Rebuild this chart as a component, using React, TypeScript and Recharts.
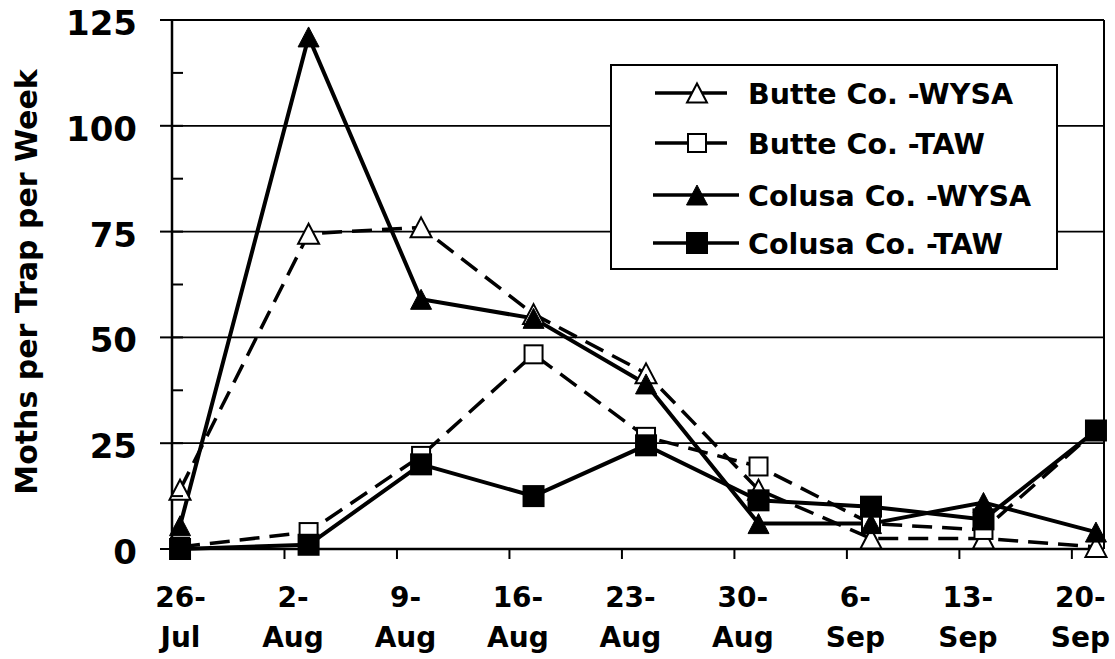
import React from "react";
import { LineChart, Line, XAxis, YAxis, CartesianGrid, ReferenceLine, Legend } from "recharts";

const weekLabels = ["26-Jul", "2-Aug", "9-Aug", "16-Aug", "23-Aug", "30-Aug", "6-Sep", "13-Sep", "20-Sep"];
const tickDays = [0, 7, 14, 21, 28, 35, 42, 49, 56];
const sampleDays = [0.5, 8.5, 15.5, 22.5, 29.5, 36.5, 43.5, 50.5, 57.5];
const butteWYSA = [14, 74.5, 76, 55.5, 41.5, 14, 2.5, 2.5, 0.5];
const butteTAW = [0.5, 4, 22, 46, 26.5, 19.5, 6, 4.5, 28];
const colusaWYSA = [5.5, 121, 59, 54.5, 39, 6, 6, 11, 4];
const colusaTAW = [0, 1, 20, 12.5, 24.5, 11.5, 10, 7, 28];
const yMajor = [0, 25, 50, 75, 100, 125];
const yTicks = [0, 12.5, 25, 37.5, 50, 62.5, 75, 87.5, 100, 112.5, 125];
const gridValues = [25, 50, 75, 100, 125];
const seriesNames = ["Butte Co. -WYSA", "Butte Co. -TAW", "Colusa Co. -WYSA", "Colusa Co. -TAW"];

const FONT = "'DejaVu Sans', Verdana, sans-serif";

const rows = sampleDays.map((d, i) => ({
  day: d,
  bw: butteWYSA[i],
  bt: butteTAW[i],
  cw: colusaWYSA[i],
  ct: colusaTAW[i],
}));

type Kind = "openTri" | "openSq" | "fillTri" | "fillSq";

const Marker = ({ cx, cy, kind, scale = 1 }: { cx: number; cy: number; kind: Kind; scale?: number }) => {
  if (cx == null || cy == null) return null;
  if (kind === "openTri" || kind === "fillTri") {
    const w = 10.5 * scale;
    const h = 10 * scale;
    const pts = `${cx},${cy - h} ${cx + w},${cy + h} ${cx - w},${cy + h}`;
    return kind === "openTri" ? (
      <polygon points={pts} fill="#fff" stroke="#000" strokeWidth={2} />
    ) : (
      <polygon points={pts} fill="#000" stroke="#000" strokeWidth={1} />
    );
  }
  if (kind === "openSq") {
    const s = 9 * scale;
    return <rect x={cx - s} y={cy - s} width={2 * s} height={2 * s} fill="#fff" stroke="#000" strokeWidth={2} />;
  }
  const s = 11 * scale;
  return <rect x={cx - s} y={cy - s} width={2 * s} height={2 * s} fill="#000" />;
};

const makeDot = (kind: Kind, id: string) => (props: any) => (
  <g key={`${id}-${props.index}`}>
    <Marker cx={props.cx} cy={props.cy} kind={kind} />
  </g>
);

const XTick = (props: any) => {
  const { x, y, payload } = props;
  const idx = tickDays.indexOf(payload.value);
  const label = weekLabels[idx] || "";
  const [d, m] = label.split("-");
  return (
    <g>
      <line x1={x} x2={x} y1={y} y2={y + 10} stroke="#000" strokeWidth={2} />
      <text x={x + 8.5} y={y + 58} textAnchor="middle" fontFamily={FONT} fontWeight="bold" fontSize={28} fill="#000">
        {d}-
      </text>
      <text x={x + 8.5} y={y + 98} textAnchor="middle" fontFamily={FONT} fontWeight="bold" fontSize={28} fill="#000">
        {m}
      </text>
    </g>
  );
};

const YTick = (props: any) => {
  const { x, y, payload } = props;
  const major = yMajor.includes(payload.value);
  return (
    <g>
      <line x1={major ? x - 12 : x} x2={x + 11} y1={y} y2={y} stroke="#000" strokeWidth={2} />
      {major && (
        <text x={x - 35} y={y + 15} textAnchor="end" fontFamily={FONT} fontWeight="bold" fontSize={34} fill="#000">
          {payload.value}
        </text>
      )}
    </g>
  );
};

const legendKinds: Kind[] = ["openTri", "openSq", "fillTri", "fillSq"];

const LegendBox = () => {
  const rowY = [29, 79, 131, 179];
  return (
    <svg width={448} height={206} style={{ display: "block" }}>
      <rect x={1} y={1} width={446} height={204} fill="#fff" stroke="#000" strokeWidth={2} />
      {seriesNames.map((name, i) => {
        const colusa = i >= 2;
        const x1 = colusa ? 43 : 45;
        const x2 = colusa ? 129 : 117;
        return (
          <g key={name}>
            <line x1={x1} x2={x2} y1={rowY[i]} y2={rowY[i]} stroke="#000" strokeWidth={3.5} />
            <Marker cx={87} cy={rowY[i]} kind={legendKinds[i]} scale={i === 0 ? 0.95 : 1} />
            <text x={138} y={rowY[i] + 10.5} fontFamily={FONT} fontWeight="bold" fontSize={28.5} fill="#000">
              {name}
            </text>
          </g>
        );
      })}
    </svg>
  );
};

export default function App() {
  return (
    <div style={{ position: "absolute", left: 0, top: 0, width: 1115, height: 659, background: "#fff" }}>
      <LineChart width={1115} height={659} data={rows} margin={{ top: 20, right: 11, left: 0, bottom: 0 }}>
        <CartesianGrid
          horizontal={true}
          vertical={false}
          horizontalValues={gridValues}
          stroke="#000"
          strokeWidth={1.8}
          strokeDasharray="0"
        />
        <ReferenceLine x={58} stroke="#000" strokeWidth={2} />
        <XAxis
          dataKey="day"
          type="number"
          domain={[0, 58]}
          ticks={tickDays}
          interval={0}
          height={110}
          tickSize={0}
          tickMargin={0}
          tickLine={false}
          axisLine={{ stroke: "#000", strokeWidth: 2.5 }}
          tick={<XTick />}
          allowDecimals={true}
        />
        <YAxis
          type="number"
          domain={[0, 125]}
          ticks={yTicks}
          interval={0}
          width={172}
          tickSize={0}
          tickMargin={0}
          tickLine={false}
          axisLine={{ stroke: "#000", strokeWidth: 2.5 }}
          tick={<YTick />}
          label={{
            value: "Moths per Trap per Week",
            angle: -90,
            position: "insideLeft",
            content: () => (
              <text
                x={0}
                y={0}
                transform="translate(37,282) rotate(-90)"
                textAnchor="middle"
                fontFamily={FONT}
                fontWeight="bold"
                fontSize={30}
                fill="#000"
              >
                Moths per Trap per Week
              </text>
            ),
          }}
        />
        <Legend
          layout="horizontal"
          verticalAlign="middle"
          align="center"
          wrapperStyle={{ position: "absolute", left: 610, top: 64, width: 448, height: 206 }}
          content={() => <LegendBox />}
        />
        <Line
          name={seriesNames[0]}
          dataKey="bw"
          type="linear"
          stroke="#000"
          strokeWidth={3.5}
          strokeDasharray="20 10"
          dot={makeDot("openTri", "bw")}
          activeDot={false}
          isAnimationActive={false}
        />
        <Line
          name={seriesNames[1]}
          dataKey="bt"
          type="linear"
          stroke="#000"
          strokeWidth={3.5}
          strokeDasharray="20 10"
          dot={makeDot("openSq", "bt")}
          activeDot={false}
          isAnimationActive={false}
        />
        <Line
          name={seriesNames[2]}
          dataKey="cw"
          type="linear"
          stroke="#000"
          strokeWidth={4}
          dot={makeDot("fillTri", "cw")}
          activeDot={false}
          isAnimationActive={false}
        />
        <Line
          name={seriesNames[3]}
          dataKey="ct"
          type="linear"
          stroke="#000"
          strokeWidth={4}
          dot={makeDot("fillSq", "ct")}
          activeDot={false}
          isAnimationActive={false}
        />
      </LineChart>
    </div>
  );
}
